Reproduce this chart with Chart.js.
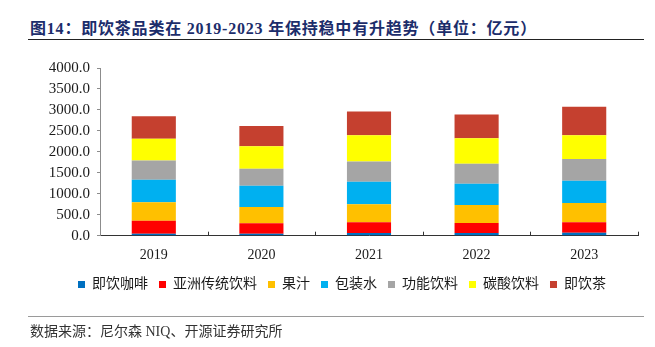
<!DOCTYPE html>
<html>
<head>
<meta charset="utf-8">
<script src="https://cdn.jsdelivr.net/npm/chart.js@4"></script>
<style>
  html, body { margin: 0; padding: 0; background: #fff; }
  body { width: 655px; height: 347px; position: relative; overflow: hidden; }
  .title {
    position: absolute; left: 30px; top: 15px;
    font: bold 16px "Liberation Serif", "Noto Sans CJK SC", serif;
    color: #1c2d6b; letter-spacing: 0.8px; white-space: nowrap;
  }
  .rule { position: absolute; left: 28px; width: 616px; height: 1px; }
  .rule.top { top: 39px; background: #222; }
  .rule.bottom { top: 316px; background: #9a9a9a; }
  .source {
    position: absolute; left: 30px; top: 320px;
    font: 14px "Liberation Serif", "Noto Sans CJK SC", serif;
    color: #333; white-space: nowrap;
  }
  #wrap { position: absolute; left: 0; top: 0; width: 655px; height: 347px; }
</style>
</head>
<body>
<div class="title">图14：即饮茶品类在 2019-2023 年保持稳中有升趋势（单位：亿元）</div>
<div class="rule top"></div>
<div id="wrap"><canvas id="chart" width="655" height="347"></canvas></div>
<div class="rule bottom"></div>
<div class="source">数据来源：尼尔森 NIQ、开源证券研究所</div>

<script>
// years and segment values (亿元), stacked bottom to top
const years = ['2019', '2020', '2021', '2022', '2023'];
const coffee    = [48, 48, 64, 64, 72];     // 即饮咖啡
const asianTrad = [311, 247, 255, 239, 247]; // 亚洲传统饮料
const juice     = [439, 392, 431, 432, 463]; // 果汁
const water     = [535, 503, 535, 503, 527]; // 包装水
const functional = [463, 407, 487, 479, 519]; // 功能饮料
const soda      = [519, 535, 623, 606, 567]; // 碳酸饮料
const rtdTea    = [535, 487, 567, 567, 679]; // 即饮茶

const yTicks = [0, 500, 1000, 1500, 2000, 2500, 3000, 3500, 4000];

const seriesDefs = [
  ['即饮咖啡', coffee, '#0070C0'],
  ['亚洲传统饮料', asianTrad, '#FF0000'],
  ['果汁', juice, '#FFC000'],
  ['包装水', water, '#00B0F0'],
  ['功能饮料', functional, '#A5A5A5'],
  ['碳酸饮料', soda, '#FFFF00'],
  ['即饮茶', rtdTea, '#C5402F']
];

const serif = '"Liberation Serif", "Noto Sans CJK SC", serif';

// small inward tick marks between categories on the x axis
const innerTicks = {
  id: 'innerTicks',
  afterDraw(chart) {
    const x = chart.scales.x;
    const ctx = chart.ctx;
    const step = (x.right - x.left) / years.length;
    ctx.save();
    ctx.strokeStyle = '#333';
    ctx.lineWidth = 1;
    for (let i = 1; i <= years.length; i++) {
      const px = Math.round(x.left + i * step) + 0.5;
      ctx.beginPath();
      ctx.moveTo(px, x.top);
      ctx.lineTo(px, x.top - 4);
      ctx.stroke();
    }
    ctx.restore();
  }
};

new Chart(document.getElementById('chart'), {
  type: 'bar',
  data: {
    labels: years,
    datasets: seriesDefs.map(([label, data, color]) => ({
      label, data,
      backgroundColor: color,
      borderWidth: 0,
      barPercentage: 0.41,
      categoryPercentage: 1
    }))
  },
  options: {
    responsive: false,
    animation: false,
    devicePixelRatio: 1,
    layout: { padding: { top: 68, bottom: 45.5, left: 46, right: 17 } },
    scales: {
      x: {
        stacked: true,
        grid: { display: false },
        border: { display: true, color: '#333', width: 1 },
        ticks: { color: '#1a1a1a', font: { family: serif, size: 14 }, padding: 3 }
      },
      y: {
        stacked: true,
        min: 0, max: 4000,
        afterBuildTicks(scale) { scale.ticks = yTicks.map(v => ({ value: v })); },
        afterFit(scale) { scale.width = 54; },
        grid: { drawOnChartArea: false, drawTicks: true, tickLength: 3, color: '#8c8c8c' },
        border: { display: true, color: '#8c8c8c', width: 1 },
        ticks: {
          color: '#1a1a1a', padding: 7, autoSkip: false,
          font: { family: serif, size: 15 },
          callback: v => Number(v).toFixed(1)
        }
      }
    },
    plugins: {
      legend: {
        position: 'bottom',
        labels: {
          boxWidth: 7, boxHeight: 7, padding: 11,
          color: '#1a1a1a',
          font: { family: serif, size: 14 }
        }
      },
      tooltip: { enabled: false }
    }
  },
  plugins: [innerTicks]
});
</script>
</body>
</html>
